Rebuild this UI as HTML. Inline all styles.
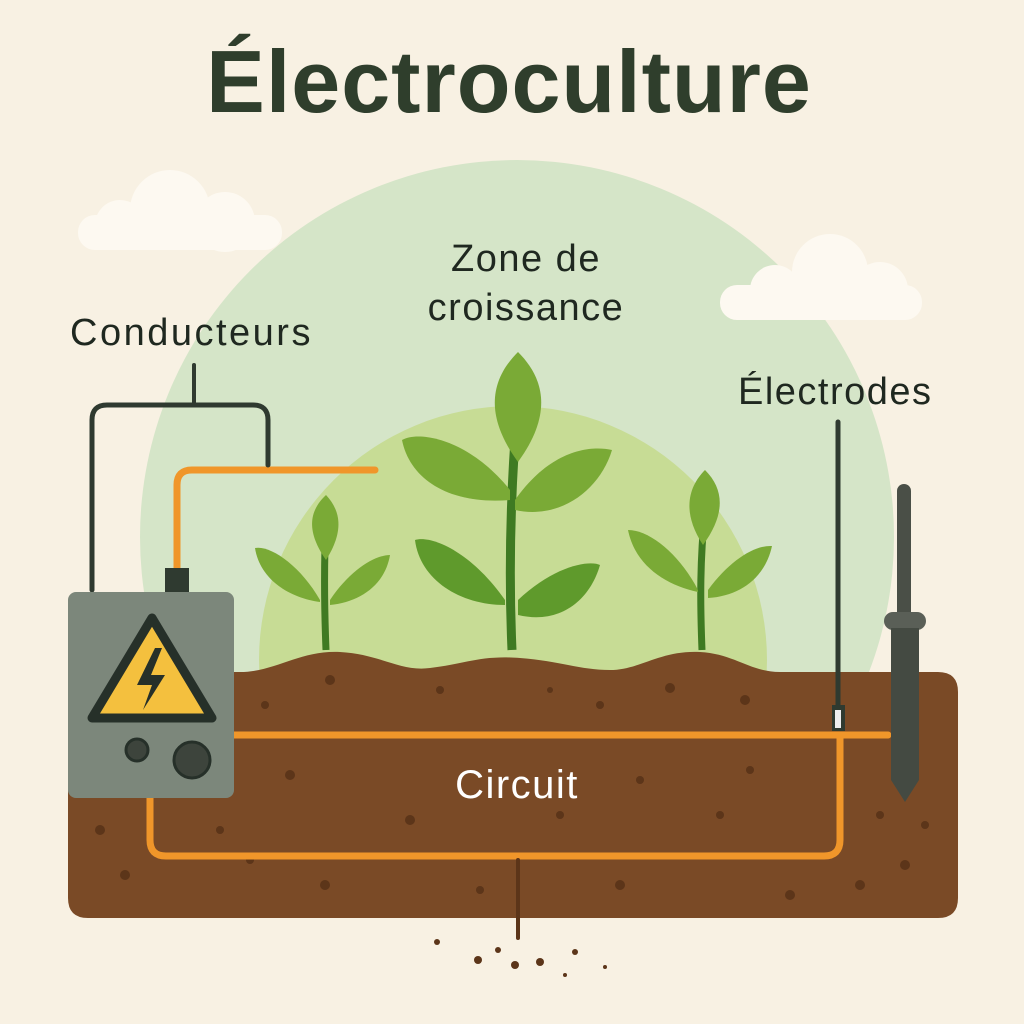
<!DOCTYPE html>
<html><head><meta charset="utf-8"><style>
html,body{margin:0;padding:0;background:#f8f1e3}
svg{display:block}
text{font-family:"Liberation Sans",sans-serif}
</style></head><body>
<svg width="1024" height="1024" viewBox="0 0 1024 1024" xmlns="http://www.w3.org/2000/svg">
<rect width="1024" height="1024" fill="#f8f1e3"/>
<circle cx="517" cy="537" r="377" fill="#d5e5c8"/>
<circle cx="513" cy="660" r="254" fill="#c7dc95"/>
<!-- clouds -->
<g fill="#fdf9f1">
<rect x="78" y="215" width="204" height="35" rx="17"/>
<circle cx="170" cy="210" r="40"/><circle cx="225" cy="222" r="30"/><circle cx="120" cy="225" r="25"/>
<rect x="720" y="285" width="202" height="35" rx="17"/>
<circle cx="830" cy="272" r="38"/><circle cx="880" cy="290" r="28"/><circle cx="775" cy="290" r="25"/>
</g>
<!-- plants -->
<g fill="#7aaa36" stroke="none">
<path d="M512 650 C508 560 512 470 518 400" stroke="#3f7a22" stroke-width="9" fill="none"/>
<path d="M518 352 C495 375 480 410 518 462 C556 410 541 375 518 352Z"/>
<path d="M510 490 C470 440 420 430 402 440 C410 480 450 505 510 500Z"/>
<path d="M515 500 C550 450 590 445 612 450 C600 490 560 520 515 510Z"/>
<path d="M505 600 C470 550 430 535 415 540 C420 580 460 605 505 605Z" fill="#5f9a2c"/>
<path d="M518 600 C555 565 590 560 600 565 C590 600 560 625 518 615Z" fill="#5f9a2c"/>
<path d="M326 650 C324 600 324 560 326 520" stroke="#3f7a22" stroke-width="7" fill="none"/>
<path d="M326 495 C310 510 305 530 326 560 C345 530 340 510 326 495Z"/>
<path d="M320 600 C300 565 270 545 255 548 C260 580 290 598 320 602Z"/>
<path d="M330 600 C350 570 375 555 390 555 C385 585 360 602 330 605Z"/>
<path d="M702 650 C700 600 700 560 705 510" stroke="#3f7a22" stroke-width="7" fill="none"/>
<path d="M705 470 C690 485 680 510 703 545 C725 515 725 490 705 470Z"/>
<path d="M698 590 C680 555 650 530 628 530 C635 565 665 585 698 592Z"/>
<path d="M708 590 C730 560 755 545 772 546 C765 578 740 596 708 598Z"/>
</g>
<!-- soil -->
<path d="M88 672 H240 C275 672 300 650 340 652 C380 654 400 672 430 668 C465 664 480 655 520 658 C560 661 580 670 610 670 C640 670 660 650 700 652 C735 654 750 672 780 672 H938 Q958 672 958 692 V898 Q958 918 938 918 H88 Q68 918 68 898 V692 Q68 672 88 672Z" fill="#7a4a26"/>
<g fill="#5c3519">
<circle cx="330" cy="680" r="5"/><circle cx="440" cy="690" r="4"/><circle cx="600" cy="705" r="4"/><circle cx="670" cy="688" r="5"/><circle cx="745" cy="700" r="5"/><circle cx="265" cy="705" r="4"/><circle cx="550" cy="690" r="3"/><circle cx="290" cy="775" r="5"/><circle cx="410" cy="820" r="5"/><circle cx="640" cy="780" r="4"/><circle cx="750" cy="770" r="4"/><circle cx="100" cy="830" r="5"/><circle cx="125" cy="875" r="5"/><circle cx="250" cy="860" r="4"/><circle cx="325" cy="885" r="5"/><circle cx="480" cy="890" r="4"/><circle cx="620" cy="885" r="5"/><circle cx="790" cy="895" r="5"/><circle cx="860" cy="885" r="5"/><circle cx="905" cy="865" r="5"/><circle cx="925" cy="825" r="4"/><circle cx="880" cy="815" r="4"/><circle cx="720" cy="815" r="4"/><circle cx="560" cy="815" r="4"/><circle cx="220" cy="830" r="4"/><circle cx="180" cy="790" r="4"/>
</g>
<!-- wires -->
<g fill="none" stroke-linecap="round">
<path d="M234 735 H888" stroke="#f0962a" stroke-width="7"/>
<path d="M150 795 V840 Q150 856 166 856 H824 Q840 856 840 840 V735" stroke="#f0962a" stroke-width="7"/>
<path d="M177 570 V485 Q177 470 192 470 H375" stroke="#f0962a" stroke-width="7"/>
<path d="M92 590 V420 Q92 405 107 405 H253 Q268 405 268 420 V465" stroke="#2f3a30" stroke-width="5"/>
<path d="M194 365 V405" stroke="#2f3a30" stroke-width="4"/>
<path d="M838 422 V710" stroke="#2f3a30" stroke-width="5"/>
<path d="M518 860 V938" stroke="#5c3519" stroke-width="4"/>
</g>
<rect x="832" y="705" width="13" height="26" fill="#2f3a30"/><rect x="835" y="710" width="6" height="18" fill="#eee"/>
<!-- big electrode -->
<rect x="897" y="484" width="14" height="135" rx="7" fill="#4a4f47"/>
<rect x="884" y="612" width="42" height="18" rx="9" fill="#5a5f57"/>
<path d="M891 628 H919 V780 L905 802 L891 780Z" fill="#444a42"/>
<!-- scatter dots -->
<g fill="#5c3519"><circle cx="437" cy="942" r="3"/><circle cx="478" cy="960" r="4"/><circle cx="498" cy="950" r="3"/><circle cx="515" cy="965" r="4"/><circle cx="540" cy="962" r="4"/><circle cx="575" cy="952" r="3"/><circle cx="565" cy="975" r="2"/><circle cx="605" cy="967" r="2"/></g>
<!-- box -->
<rect x="165" y="568" width="24" height="26" fill="#2f3a30"/>
<rect x="68" y="592" width="166" height="206" rx="8" fill="#7c877b"/>
<path d="M152 618 L212 718 H92 Z" fill="#f4c03e" stroke="#263029" stroke-width="9" stroke-linejoin="round"/>
<path d="M155 648 L137 685 H152 L143 710 L165 675 H151 L162 648Z" fill="#263029"/>
<circle cx="137" cy="750" r="11" fill="#3d443c" stroke="#263029" stroke-width="3"/>
<circle cx="192" cy="760" r="18" fill="#3d443c" stroke="#263029" stroke-width="3"/>
<!-- text -->
<text x="509" y="112" text-anchor="middle" font-size="88" font-weight="bold" fill="#2f3e2c" letter-spacing="1">Électroculture</text>
<text x="526" y="271" text-anchor="middle" font-size="38" fill="#1f2820" letter-spacing="1.5">Zone de</text>
<text x="526" y="320" text-anchor="middle" font-size="38" fill="#1f2820" letter-spacing="1.5">croissance</text>
<text x="70" y="345" font-size="38" fill="#1f2820" letter-spacing="2.5">Conducteurs</text>
<text x="738" y="404" font-size="38" fill="#1f2820" letter-spacing="1.5">Électrodes</text>
<text x="517" y="798" text-anchor="middle" font-size="40" fill="#ffffff" letter-spacing="1.5">Circuit</text>
</svg>
</body></html>
